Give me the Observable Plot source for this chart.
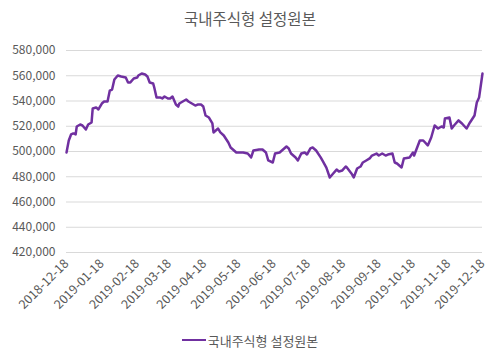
<!DOCTYPE html>
<html>
<head>
<meta charset="utf-8">
<script src="https://cdn.jsdelivr.net/npm/d3@7"></script>
<script src="https://cdn.jsdelivr.net/npm/@observablehq/plot@0.6"></script>
<style>
  body { margin: 0; background: #fff; font-family: "Noto Sans CJK KR", sans-serif; }
  #wrap { width: 500px; height: 355px; position: relative; }
  #title { height: 35px; line-height: 36px; text-align: center; font-size: 15.5px; color: #595959; }
  #legend { height: 30px; display: flex; justify-content: center; align-items: center; font-size: 13px; color: #595959; }
  #legend .sw { width: 24px; height: 0; border-top: 2.5px solid #7030a0; margin-right: 2px; }
</style>
</head>
<body>
<div id="wrap">
  <div id="title"></div>
  <div id="chart"></div>
  <div id="legend"><span class="sw"></span><span id="legtext"></span></div>
</div>
<script>
const seriesName = "국내주식형 설정원본";
const dates = [
"2018-12-18","2018-12-20","2018-12-22","2018-12-24","2018-12-26","2018-12-27","2018-12-30","2019-01-01","2019-01-04","2019-01-06",
"2019-01-09","2019-01-10","2019-01-13","2019-01-15","2019-01-18","2019-01-20","2019-01-23","2019-01-25","2019-01-27","2019-01-29",
"2019-02-01","2019-02-04","2019-02-08","2019-02-10","2019-02-12","2019-02-15","2019-02-18","2019-02-19","2019-02-22","2019-02-25",
"2019-02-27","2019-03-01","2019-03-04","2019-03-05","2019-03-07","2019-03-10","2019-03-12","2019-03-14","2019-03-17","2019-03-19",
"2019-03-21","2019-03-24","2019-03-26","2019-03-27","2019-03-30","2019-04-02","2019-04-04","2019-04-07","2019-04-10","2019-04-12",
"2019-04-15","2019-04-17","2019-04-19","2019-04-22","2019-04-25","2019-04-26","2019-04-30","2019-05-02","2019-05-05","2019-05-09",
"2019-05-11","2019-05-16","2019-05-22","2019-05-26","2019-05-29","2019-05-31","2019-06-05","2019-06-08","2019-06-11","2019-06-13",
"2019-06-17","2019-06-19","2019-06-23","2019-06-26","2019-06-29","2019-07-01","2019-07-03","2019-07-07","2019-07-09","2019-07-12",
"2019-07-15","2019-07-17","2019-07-20","2019-07-22","2019-07-25","2019-07-29","2019-07-31","2019-08-03","2019-08-06","2019-08-09",
"2019-08-12","2019-08-14","2019-08-17","2019-08-20","2019-08-21","2019-08-25","2019-08-27","2019-08-30","2019-09-02","2019-09-04",
"2019-09-07","2019-09-10","2019-09-12","2019-09-16","2019-09-18","2019-09-21","2019-09-24","2019-09-26","2019-09-30","2019-10-02",
"2019-10-04","2019-10-08","2019-10-10","2019-10-15","2019-10-18","2019-10-19","2019-10-24","2019-10-27","2019-10-31","2019-11-03",
"2019-11-06","2019-11-09","2019-11-12","2019-11-14","2019-11-15","2019-11-19","2019-11-21","2019-11-23","2019-11-27","2019-11-30",
"2019-12-04","2019-12-07","2019-12-11","2019-12-13","2019-12-15","2019-12-18"
];
const values = [
499200,508700,513500,514300,513500,519800,521400,520600,517400,521400,
523000,534100,534900,533300,538000,539600,539600,548300,549100,557000,
560200,559400,558600,554700,554700,557800,558600,560200,561800,561000,
559400,554700,553900,550700,542800,542800,542000,543600,542000,542000,
543600,537200,535600,538000,539600,541200,539600,538000,536400,537200,
537200,535600,528500,526900,522200,515100,518200,515100,512700,507100,
503200,499200,499200,498400,495300,500800,501600,501600,499200,492900,
491300,498400,499200,501600,504000,502400,498400,495300,492900,498400,
499200,497600,502400,503200,500800,495300,492100,487300,479400,482600,
485700,484200,485000,488100,487300,482600,479400,486500,488100,491300,
492900,494500,496800,498400,496800,498400,496800,497600,498400,491300,
490500,487300,494500,495300,499200,496800,508700,508700,504800,511100,
520600,518200,519800,519000,526100,526900,518200,520600,524600,522200,
518200,523000,528500,538800,542800,561800
];
const tickDates = [
"2018-12-18","2019-01-18","2019-02-18","2019-03-18","2019-04-18","2019-05-18","2019-06-18",
"2019-07-18","2019-08-18","2019-09-18","2019-10-18","2019-11-18","2019-12-18"
];
const yTicks = [420000,440000,460000,480000,500000,520000,540000,560000,580000];

document.getElementById("title").textContent = seriesName;
document.getElementById("legtext").textContent = seriesName;

const parse = d3.utcParse("%Y-%m-%d");
const fmtDate = d3.utcFormat("%Y-%m-%d");
const data = dates.map((d, i) => ({date: parse(d), value: values[i]}));

const chart = Plot.plot({
  width: 500,
  height: 290,
  marginLeft: 66,
  marginRight: 18,
  marginTop: 15,
  marginBottom: 73,
  style: {fontFamily: "'Noto Sans CJK KR', sans-serif", fontSize: "12px", color: "#595959", background: "#fff"},
  x: {type: "utc", domain: [parse(tickDates[0]), parse(tickDates[tickDates.length - 1])]},
  y: {domain: [420000, 580000]},
  marks: [
    Plot.gridY(yTicks, {stroke: "#d9d9d9", strokeOpacity: 1, strokeWidth: 1}),
    Plot.axisY(yTicks, {tickSize: 0, tickPadding: 11, tickFormat: d3.format(","), fill: "#595959", fontSize: 12, label: null}),
    Plot.axisX(tickDates.map(parse), {tickSize: 0, tickPadding: 9, tickRotate: -45, tickFormat: fmtDate, fill: "#595959", fontSize: 12.5, label: null}),
    Plot.line(data, {x: "date", y: "value", stroke: "#7030a0", strokeWidth: 2.5, strokeLinejoin: "round", curve: "linear"})
  ]
});
document.getElementById("chart").appendChild(chart);
</script>
</body>
</html>
